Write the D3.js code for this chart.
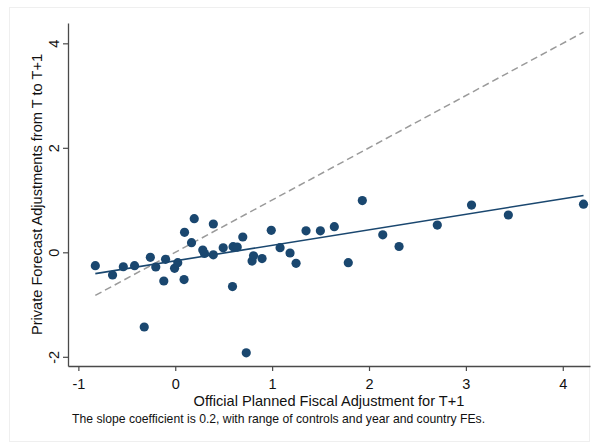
<!DOCTYPE html>
<html>
<head>
<meta charset="utf-8">
<script src="https://cdn.jsdelivr.net/npm/d3@7"></script>
<style>
  html, body { margin: 0; padding: 0; background: #fff; }
  svg { display: block; font-family: "Liberation Sans", Arial, sans-serif; }
</style>
</head>
<body>
<svg id="chart" width="591" height="443"></svg>
<script>
// Official planned adjustment (x) vs private forecast adjustment (y)
const officialAdj = [
  -0.825, -0.647, -0.536, -0.420, -0.257, -0.320, -0.201, -0.118, -0.100, -0.007,
   0.026,  0.091,  0.096,  0.168,  0.196,  0.284,  0.302,  0.393,  0.393,  0.495,
   0.591,  0.597,  0.640,  0.697,  0.733,  0.793,  0.808,  0.896,  0.991,  1.082,
   1.185,  1.247,  1.350,  1.498,  1.642,  1.786,  1.931,  2.142,  2.310,  2.705,
   3.058,  3.438,  4.214
];
const privateAdj = [
  -0.256, -0.434, -0.276, -0.256, -0.096, -1.430, -0.281, -0.549, -0.134, -0.306,
  -0.199, -0.521,  0.383,  0.184,  0.643,  0.044, -0.023,  0.542, -0.048,  0.086,
  -0.655,  0.107,  0.101,  0.293, -1.923, -0.167, -0.067, -0.119,  0.421,  0.088,
  -0.013, -0.211,  0.411,  0.411,  0.490, -0.199,  0.991,  0.335,  0.111,  0.522,
   0.905,  0.714,  0.921
];

// Fitted line
const fitIntercept = -0.163;
const fitSlope = 0.297;

const xTicks = [-1, 0, 1, 2, 3, 4];
const yTicks = [-2, 0, 2, 4];

const xTitle = "Official Planned Fiscal Adjustment for T+1";
const yTitle = "Private Forecast Adjustments from T to T+1";
const note = "The slope coefficient is 0.2, with range of controls and year and country FEs.";

const navy = "#1a476f";
const axisColor = "#4a4a4a";

const svg = d3.select("#chart");

// faint outer frame
svg.append("rect")
  .attr("x", 9.5).attr("y", 7.5)
  .attr("width", 580).attr("height", 434)
  .attr("fill", "none").attr("stroke", "#efefef");

const plot = { left: 68, right: 590, top: 23, bottom: 366 };

const x = d3.scaleLinear().domain([-1.107, 4.281]).range([plot.left, plot.right]);
const y = d3.scaleLinear().domain([-2.176, 4.389]).range([plot.bottom, plot.top]);

// 45-degree reference line
const xExt = d3.extent(officialAdj);
svg.append("line")
  .attr("x1", x(xExt[0])).attr("y1", y(xExt[0]))
  .attr("x2", x(xExt[1])).attr("y2", y(xExt[1]))
  .attr("stroke", "#9a9a9a").attr("stroke-width", 1.5)
  .attr("stroke-dasharray", "7,4");

// points
const pts = officialAdj.map((v, i) => [v, privateAdj[i]]);
svg.append("g").selectAll("circle")
  .data(pts).join("circle")
  .attr("cx", d => x(d[0])).attr("cy", d => y(d[1]))
  .attr("r", 4.6)
  .attr("fill", navy);

// fitted line
svg.append("line")
  .attr("x1", x(xExt[0])).attr("y1", y(fitIntercept + fitSlope * xExt[0]))
  .attr("x2", x(xExt[1])).attr("y2", y(fitIntercept + fitSlope * xExt[1]))
  .attr("stroke", navy).attr("stroke-width", 1.6);

// axes (hyphen-minus labels)
const fmt = d => String(d);
const xAxis = svg.append("g")
  .attr("transform", `translate(0,${plot.bottom})`)
  .call(d3.axisBottom(x).tickValues(xTicks).tickFormat(fmt).tickSizeInner(5).tickSizeOuter(0));
const yAxis = svg.append("g")
  .attr("transform", `translate(${plot.left},0)`)
  .call(d3.axisLeft(y).tickValues(yTicks).tickFormat(fmt).tickSizeInner(5).tickSizeOuter(0));

[xAxis, yAxis].forEach(g => {
  g.select(".domain").attr("stroke", axisColor).attr("stroke-width", 1.3);
  g.selectAll(".tick line").attr("stroke", axisColor).attr("stroke-width", 1.2);
  g.selectAll(".tick text").attr("fill", "#111").style("font-size", "14.5px");
});
xAxis.selectAll(".tick text").attr("dy", null).attr("y", 23);
yAxis.selectAll(".tick text")
  .attr("transform", "rotate(-90)")
  .attr("x", 0).attr("y", -9.5).attr("dy", null)
  .attr("text-anchor", "middle");

// titles
svg.append("text")
  .attr("x", (plot.left + plot.right) / 2).attr("y", 406)
  .attr("text-anchor", "middle")
  .attr("fill", "#111").style("font-size", "14.6px")
  .text(xTitle);

svg.append("text")
  .attr("transform", `translate(42,${(plot.top + plot.bottom) / 2}) rotate(-90)`)
  .attr("text-anchor", "middle")
  .attr("fill", "#111").style("font-size", "14.6px")
  .text(yTitle);

svg.append("text")
  .attr("x", 72).attr("y", 423)
  .attr("fill", "#111").style("font-size", "12.2px")
  .text(note);
</script>
</body>
</html>
